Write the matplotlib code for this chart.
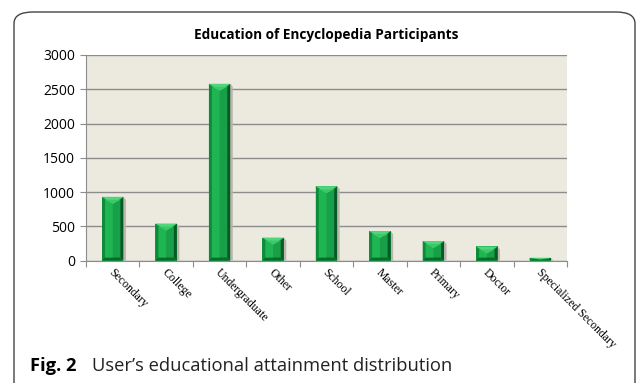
import numpy as np
import matplotlib
matplotlib.use("Agg")
import matplotlib.pyplot as plt
from matplotlib.patches import Polygon, FancyBboxPatch

categories = ["Secondary", "College", "Undergraduate", "Other", "School",
              "Master", "Primary", "Doctor", "Specialized Secondary"]
counts = [930, 540, 2580, 335, 1085, 430, 285, 205, 40]
y_ticks = [0, 500, 1000, 1500, 2000, 2500, 3000]

W, H = 637, 383
fig = plt.figure(figsize=(W / 100, H / 100), dpi=100)
fig.patch.set_facecolor("white")

# rounded frame around the chart, open at the bottom
frame = FancyBboxPatch((14 / W, -40 / H), 621 / W, (H - 12 + 40) / H,
                       boxstyle="round,pad=0,rounding_size=0.03",
                       transform=fig.transFigure, facecolor="none",
                       edgecolor="#444444", linewidth=1.0)
fig.add_artist(frame)

ax_l, ax_r, ax_t, ax_b = 86, 567, 55, 260.5
ax = fig.add_axes([ax_l / W, 1 - ax_b / H, (ax_r - ax_l) / W, (ax_b - ax_t) / H])
ax.set_facecolor("#ECE9DF")

n = len(categories)
x = np.arange(n)
ax.set_xlim(-0.5, n - 0.5)
ax.set_ylim(0, 3000)

# pixel -> data conversions for the bevel and shadow sizes
px_x = n / (ax_r - ax_l)
px_y = 3000 / (ax_b - ax_t)
bw = 0.40
bev_x = 3.0 * px_x
bev_y = 3.0 * px_y

for xi, v in zip(x, counts):
    x0, x1 = xi - bw / 2, xi + bw / 2
    # soft shadow on the right
    ax.add_patch(Polygon([(x1, 0), (x1 + 2.5 * px_x, 0), (x1 + 2.5 * px_x, v - 3 * px_y),
                          (x1, v)], closed=True, facecolor="#b9b6ac", edgecolor="none", zorder=2))
    ax.bar(xi, v, width=bw, color="#17a048", edgecolor="none", zorder=3)
    tb = min(bev_y, v / 2)
    bx = min(bev_x, bw / 4)
    # left and right edges
    ax.add_patch(Polygon([(x0, 0), (x0 + bx, tb), (x0 + bx, v - tb), (x0, v)],
                         closed=True, facecolor="#0f8a3a", edgecolor="none", zorder=4))
    ax.add_patch(Polygon([(x1, 0), (x1 - bx, tb), (x1 - bx, v - tb), (x1, v)],
                         closed=True, facecolor="#075a25", edgecolor="none", zorder=4))
    # bottom edge
    ax.add_patch(Polygon([(x0, 0), (x1, 0), (x1 - bx, tb), (x0 + bx, tb)],
                         closed=True, facecolor="#0a6a2c", edgecolor="none", zorder=4))
    # lighter pointed cap
    cap = min(7 * px_y, v * 0.6)
    ax.add_patch(Polygon([(x0, v), (x1, v), (xi, v - cap)],
                         closed=True, facecolor="#4fd67a", edgecolor="none", zorder=5))
    ax.add_patch(Polygon([(x0 + bx, v - tb), (x1 - bx, v - tb), (xi, v - cap)],
                         closed=True, facecolor="#3cc868", edgecolor="none", zorder=5))
    # face highlight
    ax.add_patch(Polygon([(x0 + bx, tb), (xi, tb), (xi, v - cap), (x0 + bx, v - tb)],
                         closed=True, facecolor="#1fb553", edgecolor="none", zorder=4))

ax.set_yticks(y_ticks)
ax.set_yticklabels([str(t) for t in y_ticks], fontsize=10, family="Open Sans")
ax.yaxis.grid(True, color="#8c8c8c", linewidth=1.0)
ax.set_axisbelow(True)
ax.tick_params(axis="y", length=4, color="#8c8c8c", pad=4)

# category boundary ticks on x
ax.set_xticks(np.arange(-0.5, n, 1.0))
ax.set_xticklabels([])
ax.tick_params(axis="x", length=4, color="#8c8c8c", direction="out")
for xi, name in zip(x, categories):
    ax.text(xi - 0.04, -150, name, rotation=-45, rotation_mode="anchor",
            ha="left", va="center", fontsize=8.5, family="Liberation Serif")

for side in ["top", "right"]:
    ax.spines[side].set_visible(False)
ax.spines["left"].set_color("#8c8c8c")
ax.spines["bottom"].set_color("#8c8c8c")

fig.text(326 / W, 1 - 35 / H, "Education of Encyclopedia Participants",
         ha="center", va="center", fontsize=9.8, fontweight="bold", family="Open Sans")

fig.text(30 / W, 1 - 366 / H, "Fig. 2", ha="left", va="center",
         fontsize=13.2, fontweight="bold", family="Open Sans")
fig.text(92 / W, 1 - 366 / H, "User\u2019s educational attainment distribution",
         ha="left", va="center", fontsize=13.2, family="Open Sans", color="#222222")

fig.savefig("out.png", dpi=100)
